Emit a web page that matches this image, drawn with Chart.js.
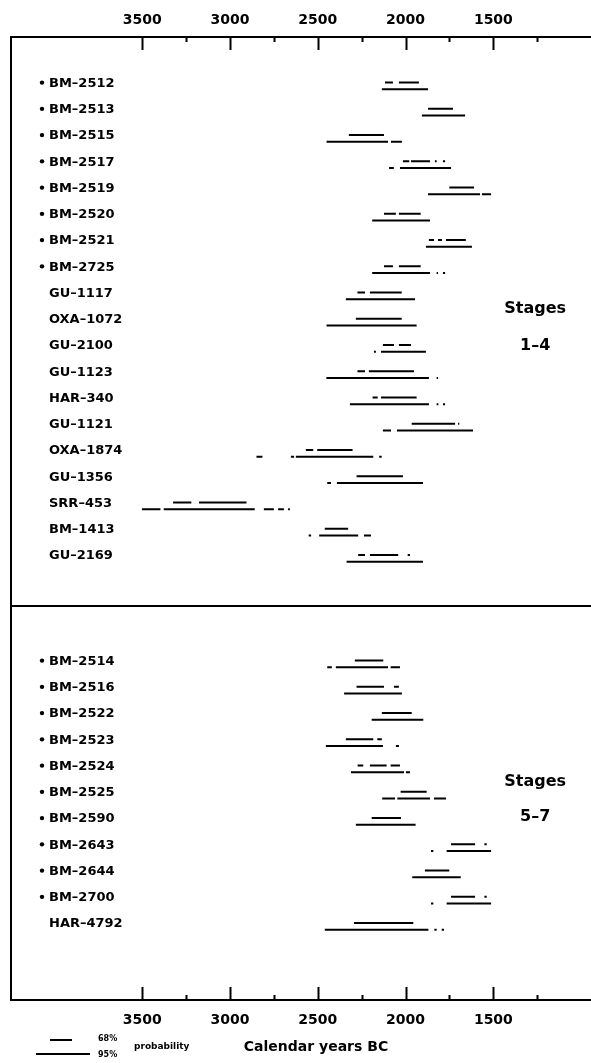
<!DOCTYPE html>
<html>
<head>
<meta charset="utf-8">
<script src="https://cdn.jsdelivr.net/npm/chart.js@4.4.1/dist/chart.umd.min.js"></script>
<style>
html, body { margin: 0; padding: 0; background: #fff; }
#wrap { position: relative; width: 591px; height: 1063px; }
</style>
</head>
<body>
<div id="wrap"><canvas id="myChart"></canvas></div>
<script>
// stages 1-4 (upper panel)
const stage14Labels = ['BM–2512', 'BM–2513', 'BM–2515', 'BM–2517', 'BM–2519', 'BM–2520', 'BM–2521', 'BM–2725',
    'GU–1117', 'OXA–1072', 'GU–2100', 'GU–1123', 'HAR–340', 'GU–1121', 'OXA–1874', 'GU–1356', 'SRR–453', 'BM–1413', 'GU–2169'];
const stage14Marked = [true, true, true, true, true, true, true, true,
    false, false, false, false, false, false, false, false, false, false, false];
// 68% ranges, cal BC
const stage14Range68 = [
    [[2117, 2072], [2038, 1924]],
    [[1872, 1730]],
    [[2323, 2123]],
    [[2015, 1979], [1969, 1861], [1833, 1823], [1787, 1775]],
    [[1751, 1610]],
    [[2123, 2055], [2038, 1914]],
    [[1867, 1838], [1815, 1793], [1770, 1657]],
    [[2123, 2072], [2038, 1914]],
    [[2274, 2231], [2203, 2022]],
    [[2283, 2022]],
    [[2129, 2066], [2038, 1969]],
    [[2274, 2231], [2209, 1952]],
    [[2188, 2159], [2140, 1937]],
    [[1965, 1718], [1701, 1694]],
    [[2568, 2526], [2503, 2302]],
    [[2279, 2015]],
    [[3324, 3220], [3176, 2906]],
    [[2460, 2327]],
    [[2270, 2231], [2203, 2042], [1988, 1975]]
];
// 95% ranges, cal BC
const stage14Range95 = [
    [[2135, 1872]],
    [[1907, 1661]],
    [[2450, 2100], [2083, 2021]],
    [[2094, 2067], [2032, 1741]],
    [[1872, 1576], [1565, 1513]],
    [[2190, 1861]],
    [[1884, 1622]],
    [[2190, 1861], [1823, 1815], [1787, 1775]],
    [[2340, 1946]],
    [[2450, 1937]],
    [[2180, 2169], [2140, 1884]],
    [[2451, 1867], [1823, 1815]],
    [[2317, 1867], [1823, 1813], [1787, 1775]],
    [[2129, 2083], [2049, 1616]],
    [[2849, 2815], [2653, 2635], [2625, 2184], [2150, 2136]],
    [[2446, 2425], [2391, 1901]],
    [[3501, 3396], [3377, 2859], [2807, 2750], [2726, 2693], [2669, 2659]],
    [[2552, 2538], [2492, 2270], [2237, 2197]],
    [[2336, 1901]]
];

// stages 5-7 (lower panel)
const stage57Labels = ['BM–2514', 'BM–2516', 'BM–2522', 'BM–2523', 'BM–2524', 'BM–2525', 'BM–2590', 'BM–2643', 'BM–2644', 'BM–2700', 'HAR–4792'];
const stage57Marked = [true, true, true, true, true, true, true, true, true, true, false];
const stage57Range68 = [
    [[2289, 2127]],
    [[2279, 2123], [2066, 2038]],
    [[2135, 1965]],
    [[2340, 2184], [2161, 2135]],
    [[2273, 2241], [2203, 2108], [2085, 2032]],
    [[2028, 1880]],
    [[2193, 2026]],
    [[1741, 1604], [1551, 1538]],
    [[1890, 1751]],
    [[1741, 1604], [1551, 1538]],
    [[2294, 1956]]
];
const stage57Range95 = [
    [[2446, 2420], [2397, 2100], [2085, 2032]],
    [[2350, 2021]],
    [[2193, 1899]],
    [[2454, 2129], [2055, 2038]],
    [[2311, 2009], [1998, 1975]],
    [[2133, 2060], [2047, 1861], [1838, 1770]],
    [[2283, 1943]],
    [[1855, 1842], [1766, 1513]],
    [[1962, 1686]],
    [[1855, 1842], [1766, 1513]],
    [[2460, 1870], [1836, 1823], [1794, 1781]]
];

const tickYears = [3500, 3250, 3000, 2750, 2500, 2250, 2000, 1750, 1500, 1250];
const labelYears = [3500, 3000, 2500, 2000, 1500];
const stageNotes = [
    { text: 'Stages', year: 1262, row: 8.63 },
    { text: '1–4', year: 1262, row: 10.03 },
    { text: 'Stages', year: 1262, row: 26.65 },
    { text: '5–7', year: 1262, row: 27.98 }
];

// row slots on the y scale
const lowerStart = 22.02;
const panelDivider = 19.94;
const rows = [];
stage14Labels.forEach((name, i) => rows.push({ name, pos: i, mark: stage14Marked[i], r68: stage14Range68[i], r95: stage14Range95[i] }));
stage57Labels.forEach((name, i) => rows.push({ name, pos: lowerStart + i, mark: stage57Marked[i], r68: stage57Range68[i], r95: stage57Range95[i] }));

function segPoints(key, shift) {
    const pts = [];
    rows.forEach(row => {
        row[key].forEach(s => {
            pts.push({ x: s[0], y: row.pos + shift }, { x: s[1], y: row.pos + shift }, { x: s[1], y: null });
        });
    });
    return pts;
}

const frameAndText = {
    id: 'frameAndText',
    afterDraw(chart) {
        const { ctx, chartArea: a } = chart;
        const x = chart.scales.x, y = chart.scales.y;
        ctx.save();
        ctx.strokeStyle = '#000';
        ctx.lineWidth = 2;
        ctx.beginPath();
        ctx.moveTo(a.right + 4, a.top); ctx.lineTo(a.left, a.top);
        ctx.lineTo(a.left, a.bottom); ctx.lineTo(a.right + 4, a.bottom);
        const yDiv = y.getPixelForValue(panelDivider);
        ctx.moveTo(a.left, yDiv); ctx.lineTo(a.right + 4, yDiv);
        // ticks pointing inward, top and bottom
        tickYears.forEach(v => {
            const px = Math.round(x.getPixelForValue(v)) + 0.5;
            const len = labelYears.includes(v) ? 13 : 5;
            ctx.moveTo(px, a.top); ctx.lineTo(px, a.top + len);
            ctx.moveTo(px, a.bottom); ctx.lineTo(px, a.bottom - len);
        });
        ctx.stroke();

        // sample labels
        ctx.fillStyle = '#000';
        ctx.textBaseline = 'middle';
        ctx.textAlign = 'left';
        ctx.font = 'bold 13px "DejaVu Sans"';
        rows.forEach(row => {
            const py = y.getPixelForValue(row.pos) + 1;
            ctx.fillText(row.name, 49, py);
            if (row.mark) {
                ctx.beginPath();
                ctx.arc(42, py - 1, 2.2, 0, Math.PI * 2);
                ctx.fill();
            }
        });

        // stage notes
        ctx.textAlign = 'center';
        ctx.font = 'bold 16px "DejaVu Sans"';
        stageNotes.forEach(n => ctx.fillText(n.text, x.getPixelForValue(n.year), y.getPixelForValue(n.row)));

        // axis title
        ctx.font = 'bold 14px "DejaVu Sans"';
        ctx.fillText('Calendar years BC', 316, 1047);

        // key
        ctx.lineWidth = 2;
        ctx.beginPath();
        ctx.moveTo(50, 1040); ctx.lineTo(72, 1040);
        ctx.moveTo(36, 1054); ctx.lineTo(90, 1054);
        ctx.stroke();
        ctx.textAlign = 'left';
        ctx.font = 'bold 8px "DejaVu Sans"';
        ctx.fillText('68%', 98, 1039);
        ctx.fillText('95%', 98, 1055);
        ctx.font = 'bold 9px "DejaVu Sans"';
        ctx.fillText('probability', 134, 1047);
        ctx.restore();
    }
};

const axisBase = {
    type: 'linear',
    reverse: true,
    min: 944,
    max: 4247,
    grid: { display: false, drawTicks: false },
    border: { display: false },
    afterBuildTicks: scale => { scale.ticks = tickYears.map(v => ({ value: v })); },
    ticks: {
        autoSkip: false,
        maxRotation: 0,
        color: '#000',
        font: { family: 'DejaVu Sans', weight: 'bold', size: 14 },
        callback: v => labelYears.includes(v) ? String(v) : ''
    }
};

const ctx = document.getElementById('myChart').getContext('2d');
const myChart = new Chart(ctx, {
    type: 'scatter',
    data: {
        datasets: [
            { label: '68%', data: segPoints('r68', 0), xAxisID: 'x' },
            { label: '95%', data: segPoints('r95', 0.25), xAxisID: 'x' }
        ]
    },
    options: {
        responsive: true,
        maintainAspectRatio: false,
        animation: false,
        showLine: true,
        spanGaps: false,
        borderColor: '#000',
        datasets: { scatter: { borderColor: '#000', borderWidth: 2, pointRadius: 0, borderCapStyle: 'butt', showLine: true } },
        layout: { padding: { left: 11, right: 0, top: 0, bottom: 0 } },
        plugins: { legend: { display: false }, tooltip: { enabled: false } },
        scales: {
            x: Object.assign({}, axisBase, {
                position: 'bottom',
                ticks: Object.assign({}, axisBase.ticks, { padding: 11.6 }),
                afterFit: s => { s.height = 63; }
            }),
            xTop: Object.assign({}, axisBase, {
                position: 'top',
                ticks: Object.assign({}, axisBase.ticks, { padding: 8.6 }),
                afterFit: s => { s.height = 37; }
            }),
            y: { type: 'linear', display: false, reverse: true, min: -1.737, max: 34.95 }
        }
    },
    plugins: [frameAndText]
});
</script>
</body>
</html>
